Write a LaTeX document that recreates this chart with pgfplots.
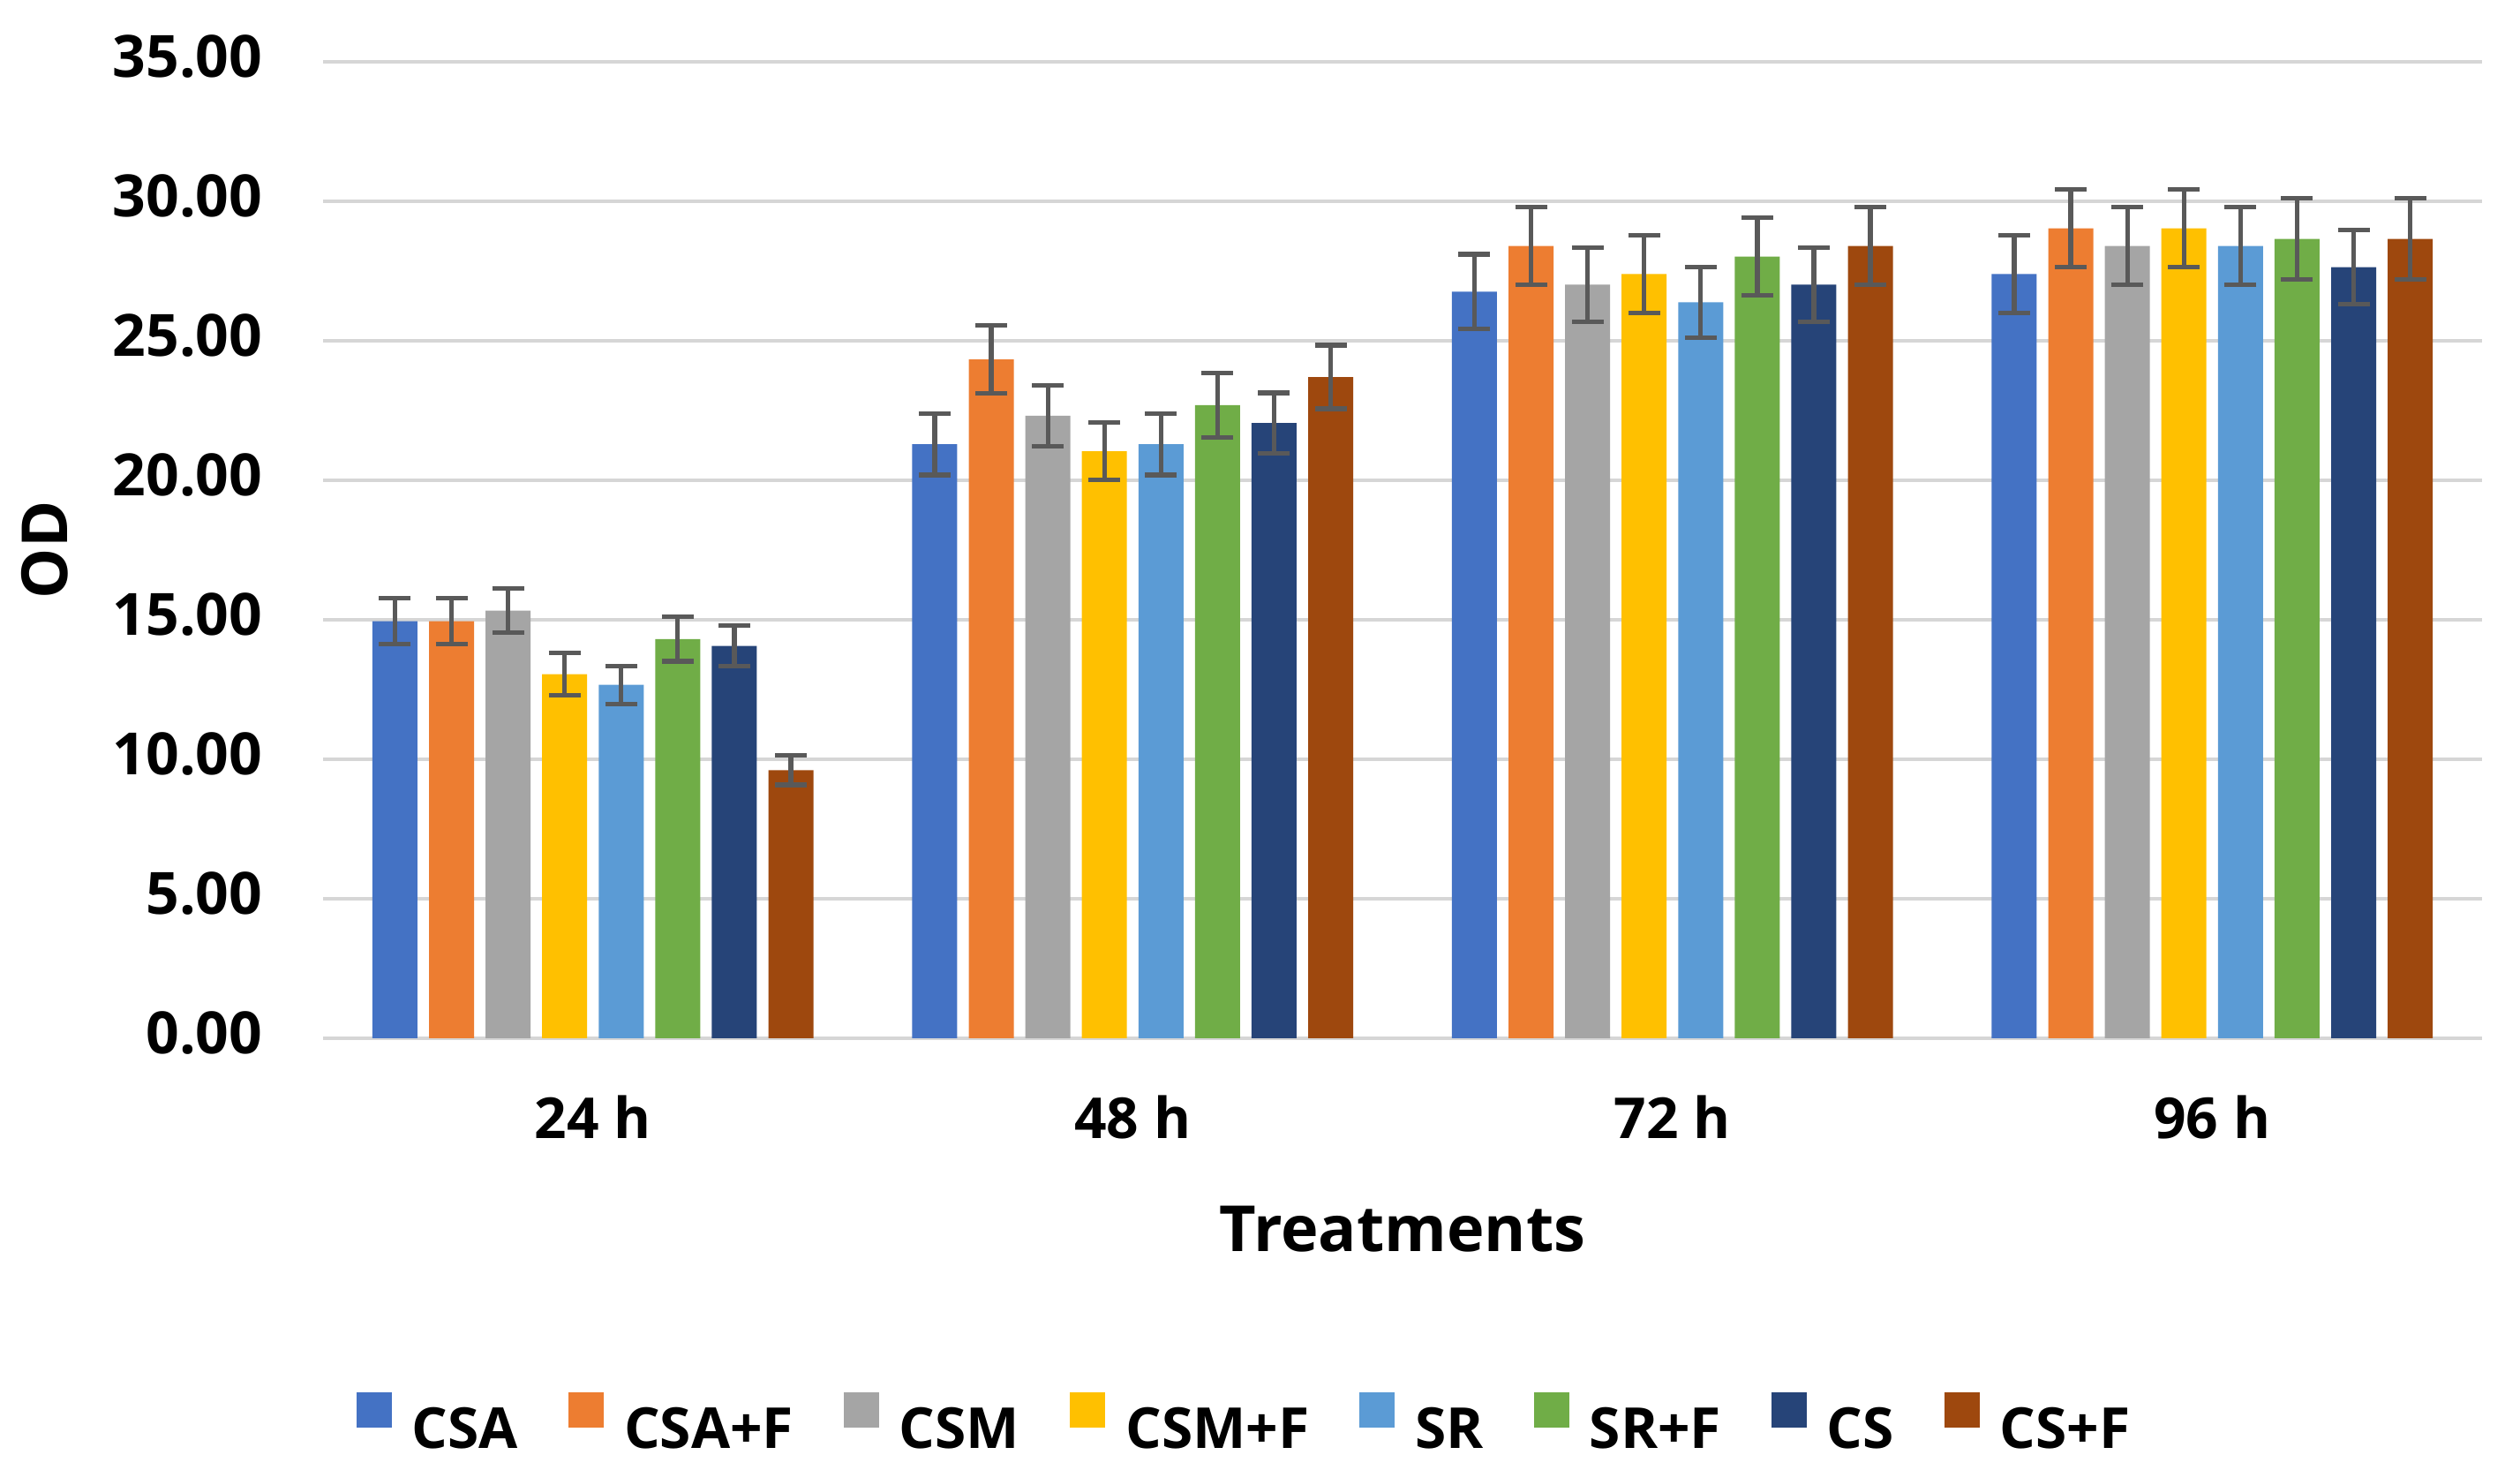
\documentclass[border=0pt]{standalone}
\usepackage{fontspec}
\setmainfont{Open Sans}
\usepackage{pgfplots}
\usepackage{pgfplotstable}
\pgfplotsset{compat=1.18}
\definecolor{cCSA}{HTML}{4472C4}
\definecolor{cCSAF}{HTML}{ED7D31}
\definecolor{cCSM}{HTML}{A5A5A5}
\definecolor{cCSMF}{HTML}{FFC000}
\definecolor{cSR}{HTML}{5B9BD5}
\definecolor{cSRF}{HTML}{70AD47}
\definecolor{cCS}{HTML}{264478}
\definecolor{cCSF}{HTML}{9E480E}
\definecolor{errc}{HTML}{595959}
\definecolor{gridc}{HTML}{D6D6D6}

\pgfplotstableread{
g v e
0 14.95 0.82
1 21.29 1.10
2 26.76 1.34
3 27.39 1.39
}\tCSA
\pgfplotstableread{
g v e
0 14.95 0.82
1 24.33 1.22
2 28.40 1.40
3 29.03 1.40
}\tCSAF
\pgfplotstableread{
g v e
0 15.33 0.80
1 22.31 1.10
2 27.01 1.33
3 28.40 1.40
}\tCSM
\pgfplotstableread{
g v e
0 13.05 0.75
1 21.04 1.02
2 27.39 1.39
3 29.03 1.40
}\tCSMF
\pgfplotstableread{
g v e
0 12.67 0.68
1 21.29 1.10
2 26.38 1.27
3 28.40 1.40
}\tSR
\pgfplotstableread{
g v e
0 14.31 0.80
1 22.69 1.15
2 28.02 1.39
3 28.65 1.45
}\tSRF
\pgfplotstableread{
g v e
0 14.06 0.73
1 22.05 1.08
2 27.01 1.33
3 27.64 1.33
}\tCS
\pgfplotstableread{
g v e
0 9.61 0.53
1 23.70 1.14
2 28.40 1.40
3 28.65 1.45
}\tCSF

\pgfplotsset{
  mybar/.style={ybar, bar width=0.0834, bar shift=0pt, fill=#1, draw=none,
    error bars/.cd, y dir=both, y explicit,
    error bar style={draw=errc, line width=1.3pt},
    error mark options={draw=errc, line width=1.3pt, mark size=4.5pt, rotate=90}},
}

\begin{document}
\begin{tikzpicture}
\path[use as bounding box] (0,0) rectangle (713.75pt,416.25pt);
\begin{axis}[
  at={(91.5pt,122.25pt)}, anchor=south west,
  scale only axis, width=611.5pt, height=276.5pt,
  xmin=-0.5, xmax=3.5, ymin=0, ymax=35,
  ytick={0,5,10,15,20,25,30,35},
  yticklabels={0.00,5.00,10.00,15.00,20.00,25.00,30.00,35.00},
  xtick={0,1,2,3}, xticklabels={24 h,48 h,72 h,96 h},
  ymajorgrids, major grid style={line width=1.2pt, draw=gridc},
  axis line style={draw=none}, major tick length=0pt, tick style={draw=none},
  yticklabel style={font=\fontsize{16.5pt}{18pt}\selectfont\bfseries, anchor=east, inner sep=0pt, xshift=-17pt, yshift=1.5pt},
  xticklabel style={font=\fontsize{16pt}{18pt}\selectfont\bfseries, anchor=north, inner sep=0pt, yshift=-16pt},
  xlabel={Treatments},
  xlabel style={at={(axis description cs:0.5,-0.1709)}, anchor=north, inner sep=0pt, font=\fontsize{18pt}{20pt}\selectfont\bfseries},
  ylabel={OD},
  ylabel style={at={(axis description cs:-0.1288,0.5)}, anchor=center, inner sep=0pt, font=\fontsize{18pt}{20pt}\selectfont\bfseries},
  legend columns=8,
  legend image code/.code={\fill[#1] (0pt,0.7pt) rectangle (10pt,10.7pt);},
  legend style={draw=none, fill=none, at={(axis description cs:0.4263,-0.394)}, anchor=center,
    font=\fontsize{16pt}{18pt}\selectfont\bfseries,
    nodes={inner sep=0pt},
    column sep=5.75pt,
    /tikz/every even column/.append style={column sep=14.25pt}},
]
\addplot[mybar=cCSA]  table[x expr=\thisrow{g}-0.3668, y=v, y error=e] {\tCSA};
\addplot[mybar=cCSAF] table[x expr=\thisrow{g}-0.2620, y=v, y error=e] {\tCSAF};
\addplot[mybar=cCSM]  table[x expr=\thisrow{g}-0.1572, y=v, y error=e] {\tCSM};
\addplot[mybar=cCSMF] table[x expr=\thisrow{g}-0.0524, y=v, y error=e] {\tCSMF};
\addplot[mybar=cSR]   table[x expr=\thisrow{g}+0.0524, y=v, y error=e] {\tSR};
\addplot[mybar=cSRF]  table[x expr=\thisrow{g}+0.1572, y=v, y error=e] {\tSRF};
\addplot[mybar=cCS]   table[x expr=\thisrow{g}+0.2620, y=v, y error=e] {\tCS};
\addplot[mybar=cCSF]  table[x expr=\thisrow{g}+0.3668, y=v, y error=e] {\tCSF};
\legend{CSA,CSA+F,CSM,CSM+F,SR,SR+F,CS,CS+F}
\end{axis}
\end{tikzpicture}
\end{document}
